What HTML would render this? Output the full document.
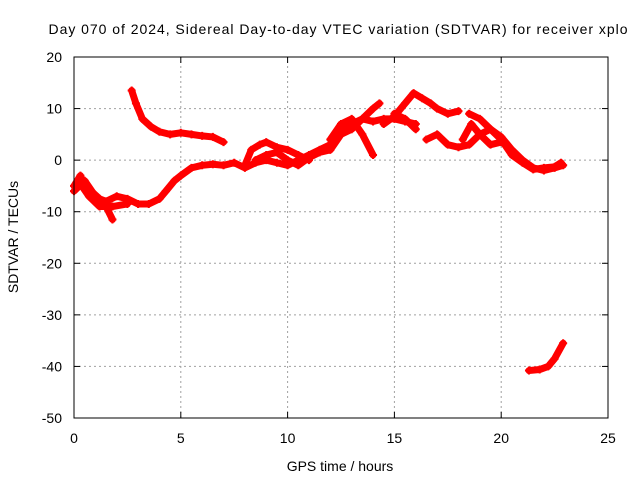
<!DOCTYPE html>
<html><head><meta charset="utf-8"><style>
html,body{margin:0;padding:0;background:#fff;}
svg{display:block;font-family:"Liberation Sans",sans-serif;}
</style></head><body>
<svg id="chart" width="640" height="480">
<text x="338" y="34" text-anchor="middle" font-size="14" textLength="579" lengthAdjust="spacing">Day 070 of 2024, Sidereal Day-to-day VTEC variation (SDTVAR) for receiver xplo</text>
<g id="grid"></g>
<g id="ticks"></g>
<g id="series"></g>
<rect x="74" y="57" width="534" height="361" fill="none" stroke="#000" stroke-width="1"/>
<text x="340" y="471" text-anchor="middle" font-size="14">GPS time / hours</text>
<text transform="translate(18,237) rotate(-90)" text-anchor="middle" font-size="14">SDTVAR / TECUs</text>
</svg>
<script>
const xTicks=[0,5,10,15,20,25];
const yTicks=[20,10,0,-10,-20,-30,-40,-50];
const track1=[[2.7,13.5],[2.9,11],[3.2,8],[3.6,6.5],[4,5.5],[4.5,5],[5,5.3],[5.5,5],[6,4.7],[6.5,4.5],[7,3.5]];
const track2=[[0,-5],[0.3,-3],[0.5,-5],[0.8,-6],[1.2,-7.5],[1.5,-8],[2,-7],[2.5,-7.5],[3,-8.5],[3.5,-8.5],[4,-7.5],[4.3,-6],[4.7,-4],[5,-3],[5.5,-1.5],[6,-1],[6.5,-0.8],[7,-1],[7.5,-0.5],[8,-1.5],[8.5,-0.5],[9,0],[9.5,-0.5],[10,-1],[10.5,0],[11,1],[11.5,2],[12,3],[12.5,6],[13,7],[13.5,8],[14,7.5],[14.5,8],[15,8],[15.5,7.5],[16,7]];
const track3=[[0,-6],[0.5,-4],[1,-7],[1.5,-9],[1.8,-11.5]];
const track4=[[0.2,-4],[0.7,-7],[1.2,-9],[1.8,-9],[2.5,-8.5]];
const track5=[[8,-1],[8.3,2],[8.7,3],[9,3.5],[9.5,2.5],[10,2],[10.5,1],[11,0]];
const track6=[[8.5,0],[9,1],[9.5,1.5],[10,0],[10.5,-1],[11,0.5],[11.5,1.5],[12,2],[12.5,5],[13,6],[13.5,8],[14,10],[14.3,11]];
const track7=[[12,4],[12.5,7],[13,8],[13.5,5],[14,1]];
const track8=[[14.5,7],[15,8.5],[15.5,11],[15.9,13],[16.3,12],[16.7,11],[17,10],[17.5,9],[18,9.5]];
const track9=[[15,9],[15.5,8],[16,6]];
const track10=[[16.5,4],[17,5],[17.5,3],[18,2.5],[18.5,3],[19,5],[19.5,6],[20,4.5],[20.5,2],[21,0],[21.5,-1.5],[22,-2],[22.5,-1.5],[22.9,-1]];
const track11=[[18.5,9],[19,8],[19.5,6],[20,4],[20.5,1],[21,-0.5],[21.5,-1.8],[22,-1.5],[22.5,-1.3],[22.8,-0.5]];
const track12=[[18.2,4],[18.6,7],[19,5],[19.5,3],[20,3.5]];
const track13=[[21.3,-40.8],[21.8,-40.6],[22.2,-40],[22.5,-38.5],[22.9,-35.5]];
const tracks=[track1,track2,track3,track4,track5,track6,track7,track8,track9,track10,track11,track12,track13];

const NS="http://www.w3.org/2000/svg";
const X0=74,X1=608,Y0=418,Y1=57;
const xs=v=>X0+(v-0)/(25-0)*(X1-X0);
const ys=v=>Y0-(v-(-50))/(20-(-50))*(Y0-Y1);
function mk(tag,attrs,parent){const e=document.createElementNS(NS,tag);for(const k in attrs)e.setAttribute(k,attrs[k]);parent.appendChild(e);return e;}
const grid=document.getElementById('grid'),ticks=document.getElementById('ticks'),series=document.getElementById('series');
xTicks.forEach(t=>{const x=xs(t);
 if(t>0&&t<25){const l=mk('line',{x1:x,x2:x,y1:Y0,y2:Y1,stroke:'#a0a0a0','stroke-dasharray':'2,3'},grid);}
 const tk=mk('line',{x1:x,x2:x,y1:Y0,y2:Y0-6,stroke:'#000'},ticks);
 const tk2=mk('line',{x1:x,x2:x,y1:Y1,y2:Y1+6,stroke:'#000'},ticks);
 const tx=mk('text',{x:x,y:443,'text-anchor':'middle','font-size':14},ticks);tx.textContent=t;});
yTicks.forEach(t=>{const y=ys(t);
 if(t>-50&&t<20){const l=mk('line',{x1:X0,x2:X1,y1:y,y2:y,stroke:'#a0a0a0','stroke-dasharray':'2,3'},grid);}
 const tk=mk('line',{x1:X0,x2:X0+6,y1:y,y2:y,stroke:'#000'},ticks);
 const tk2=mk('line',{x1:X1,x2:X1-6,y1:y,y2:y,stroke:'#000'},ticks);
 const tx=mk('text',{x:62,y:y+5,'text-anchor':'end','font-size':14},ticks);tx.textContent=t;});
tracks.forEach((tr,i)=>{
 const pl=mk('polyline',{points:tr.map(p=>xs(p[0])+','+ys(p[1])).join(' '),fill:'none',stroke:'#f00','stroke-width':7,'stroke-linejoin':'round','stroke-linecap':'round'},series);
 
 
 tr.forEach(p=>{const x=xs(p[0]),y=ys(p[1]);
  const m=mk('path',{d:`M${x-4},${y}H${x+4}M${x},${y-4}V${y+4}`,stroke:'#f00','stroke-width':2},series);
  
  });
});
</script>
</body></html>
